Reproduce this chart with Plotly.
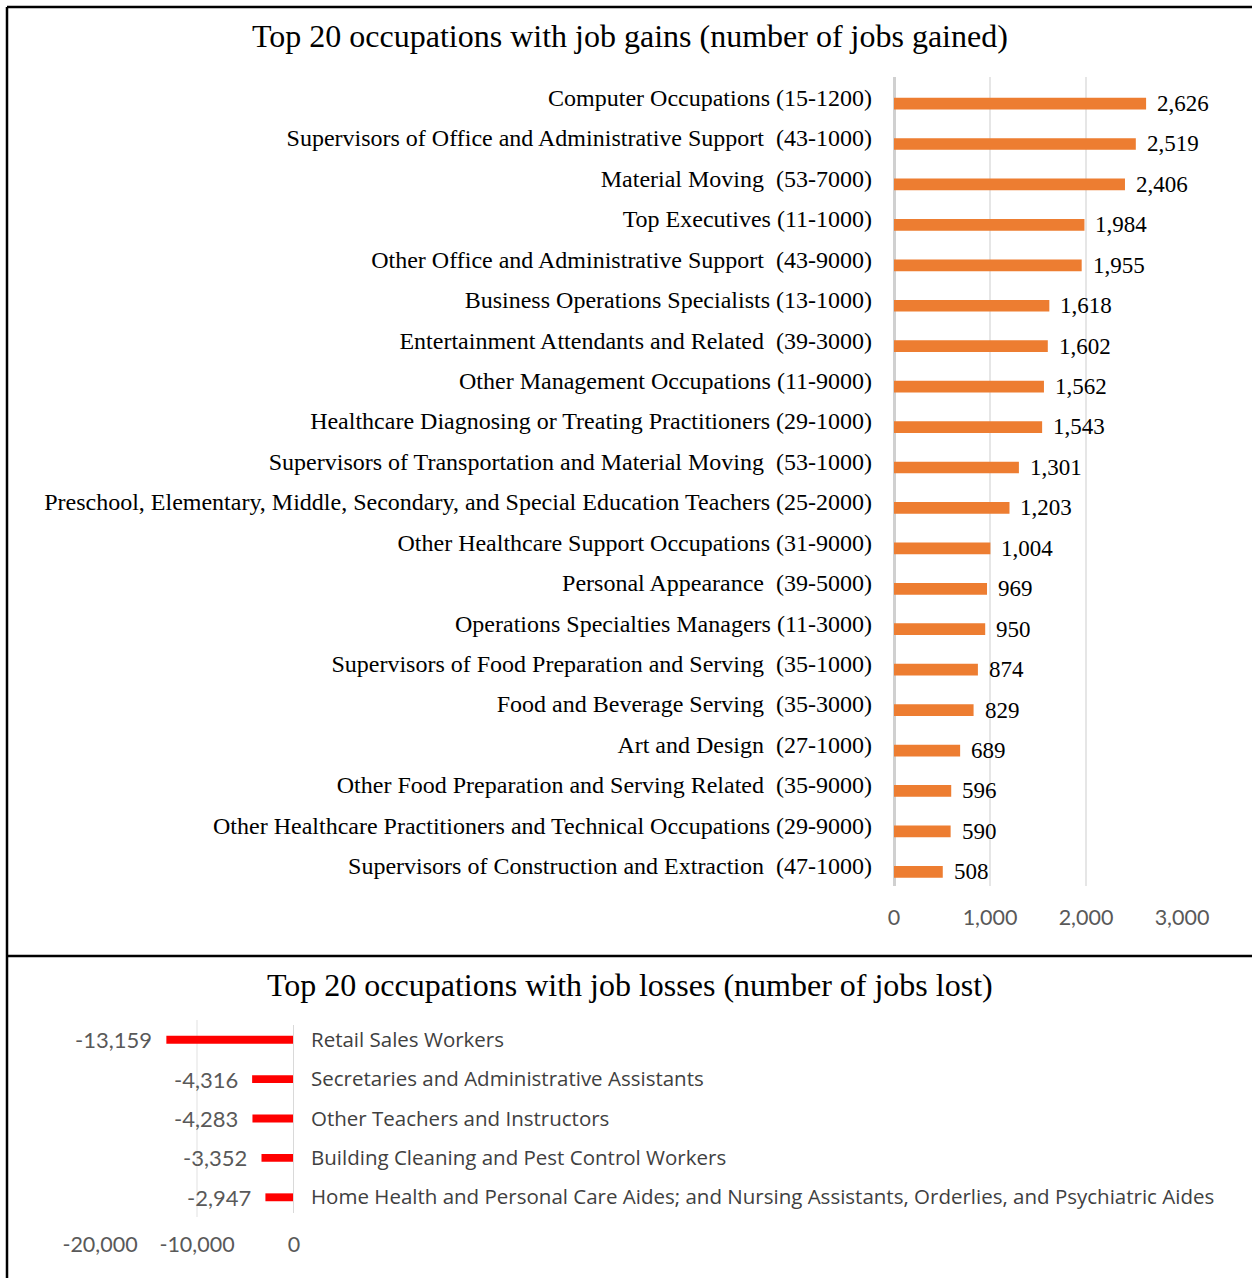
import plotly.graph_objects as go

# ---------------- data ----------------
gain_categories = [
    "Computer Occupations (15-1200)",
    "Supervisors of Office and Administrative Support  (43-1000)",
    "Material Moving  (53-7000)",
    "Top Executives (11-1000)",
    "Other Office and Administrative Support  (43-9000)",
    "Business Operations Specialists (13-1000)",
    "Entertainment Attendants and Related  (39-3000)",
    "Other Management Occupations (11-9000)",
    "Healthcare Diagnosing or Treating Practitioners (29-1000)",
    "Supervisors of Transportation and Material Moving  (53-1000)",
    "Preschool, Elementary, Middle, Secondary, and Special Education Teachers (25-2000)",
    "Other Healthcare Support Occupations (31-9000)",
    "Personal Appearance  (39-5000)",
    "Operations Specialties Managers (11-3000)",
    "Supervisors of Food Preparation and Serving  (35-1000)",
    "Food and Beverage Serving  (35-3000)",
    "Art and Design  (27-1000)",
    "Other Food Preparation and Serving Related  (35-9000)",
    "Other Healthcare Practitioners and Technical Occupations (29-9000)",
    "Supervisors of Construction and Extraction  (47-1000)",
]
gain_values = [2626, 2519, 2406, 1984, 1955, 1618, 1602, 1562, 1543, 1301,
               1203, 1004, 969, 950, 874, 829, 689, 596, 590, 508]
gain_ticks = [0, 1000, 2000, 3000]

loss_categories = [
    "Retail Sales Workers",
    "Secretaries and Administrative Assistants",
    "Other Teachers and Instructors",
    "Building Cleaning and Pest Control Workers",
    "Home Health and Personal Care Aides; and Nursing Assistants, Orderlies, and Psychiatric Aides",
]
loss_values = [-13159, -4316, -4283, -3352, -2947]
loss_ticks = [-20000, -10000, 0]

title_gain = "Top 20 occupations with job gains (number of jobs gained)"
title_loss = "Top 20 occupations with job losses (number of jobs lost)"

# ---------------- layout helpers ----------------
W, H = 1252, 1278
def px_x(p):
    return p / W
def px_y(p):
    return 1 - p / H

def fmt(v):
    s = f"{abs(v):,}"
    return ("-" + s) if v < 0 else s

SERIF = "Liberation Serif, Times New Roman, serif"
SANS = "Lato, Open Sans, sans-serif"
SANS2 = "Open Sans, Lato, sans-serif"
GREY = "#595959"

fig = go.Figure()

bw_top = 0.29
fig.add_trace(go.Bar(
    x=gain_values, y=gain_categories, orientation="h",
    marker=dict(color="#ED7D31", line=dict(width=0)),
    width=bw_top, offset=-bw_top / 2 + 0.15,
    xaxis="x", yaxis="y", showlegend=False, hoverinfo="x+y",
))

bw_bot = 0.2
fig.add_trace(go.Bar(
    x=loss_values, y=loss_categories, orientation="h",
    marker=dict(color="#FF0000", line=dict(width=0)),
    width=bw_bot,
    xaxis="x2", yaxis="y2", showlegend=False, hoverinfo="x+y",
))

annotations = []
for c, v in zip(gain_categories, gain_values):
    annotations.append(dict(
        x=v, y=c, xref="x", yref="y", text=fmt(v), showarrow=False,
        xanchor="left", yanchor="middle", xshift=9, yshift=-6,
        font=dict(family=SERIF, size=23, color="#000000"),
    ))
for c, v in zip(loss_categories, loss_values):
    annotations.append(dict(
        x=v, y=c, xref="x2", yref="y2", text=fmt(v), showarrow=False,
        xanchor="right", yanchor="middle", xshift=-12, yshift=0,
        font=dict(family=SANS, size=22, color=GREY),
    ))
annotations.append(dict(
    x=px_x(630), y=px_y(36), xref="paper", yref="paper", text=title_gain,
    showarrow=False, xanchor="center", yanchor="middle",
    font=dict(family=SERIF, size=32, color="#000000"),
))
annotations.append(dict(
    x=px_x(630), y=px_y(985), xref="paper", yref="paper", text=title_loss,
    showarrow=False, xanchor="center", yanchor="middle",
    font=dict(family=SERIF, size=32, color="#000000"),
))

lw = 2.5
shapes = [
    dict(type="line", xref="paper", yref="paper", x0=px_x(7), x1=px_x(7),
         y0=0, y1=px_y(7), line=dict(color="#000000", width=lw)),
    dict(type="line", xref="paper", yref="paper", x0=px_x(7), x1=1,
         y0=px_y(7), y1=px_y(7), line=dict(color="#000000", width=lw)),
    dict(type="line", xref="paper", yref="paper", x0=px_x(7), x1=1,
         y0=px_y(956), y1=px_y(956), line=dict(color="#000000", width=lw)),
    dict(type="line", xref="x2", yref="paper", x0=0, x1=0,
         y0=px_y(1213), y1=px_y(1025), line=dict(color="#d9d9d9", width=2)),
]

fig.update_layout(
    width=W, height=H,
    margin=dict(l=0, r=0, t=0, b=0),
    paper_bgcolor="white", plot_bgcolor="white",
    bargap=0.7,
    annotations=annotations,
    shapes=shapes,
    xaxis=dict(
        domain=[px_x(894), px_x(1182)], range=[0, 3000],
        tickvals=gain_ticks, ticktext=[fmt(t) for t in gain_ticks],
        showgrid=True, gridcolor="#e6e6e6", gridwidth=1.5,
        zeroline=True, zerolinecolor="#d0d0d0", zerolinewidth=2.5,
        showline=False, ticks="", ticklabelstandoff=16,
        tickfont=dict(family=SANS, size=21.5, color=GREY),
        anchor="y", automargin=False, fixedrange=True,
    ),
    yaxis=dict(
        domain=[px_y(886), px_y(77)], autorange="reversed",
        type="category", showgrid=False, zeroline=False, showline=False,
        ticks="", ticklabelstandoff=21,
        tickfont=dict(family=SERIF, size=24, color="#000000"),
        anchor="x", automargin=False, fixedrange=True,
    ),
    xaxis2=dict(
        domain=[px_x(100), px_x(294)], range=[-20000, 0],
        tickvals=loss_ticks, ticktext=[fmt(t) for t in loss_ticks],
        showgrid=True, gridcolor="#f0f0f0", gridwidth=1.5,
        zeroline=False, showline=False, ticks="", ticklabelstandoff=12,
        tickfont=dict(family=SANS, size=21.5, color=GREY),
        anchor="y2", automargin=False, fixedrange=True,
    ),
    yaxis2=dict(
        domain=[px_y(1217), px_y(1020)], autorange="reversed",
        type="category", side="right", showgrid=False, zeroline=False,
        showline=False, ticks="", ticklabelstandoff=16,
        tickfont=dict(family=SANS2, size=20.5, color="#404040"),
        anchor="x2", automargin=False, fixedrange=True,
    ),
)

fig.write_html(
    "out.html",
    config={"displayModeBar": False},
    post_script="document.body.style.margin='0';document.body.style.overflow='hidden';",
)
